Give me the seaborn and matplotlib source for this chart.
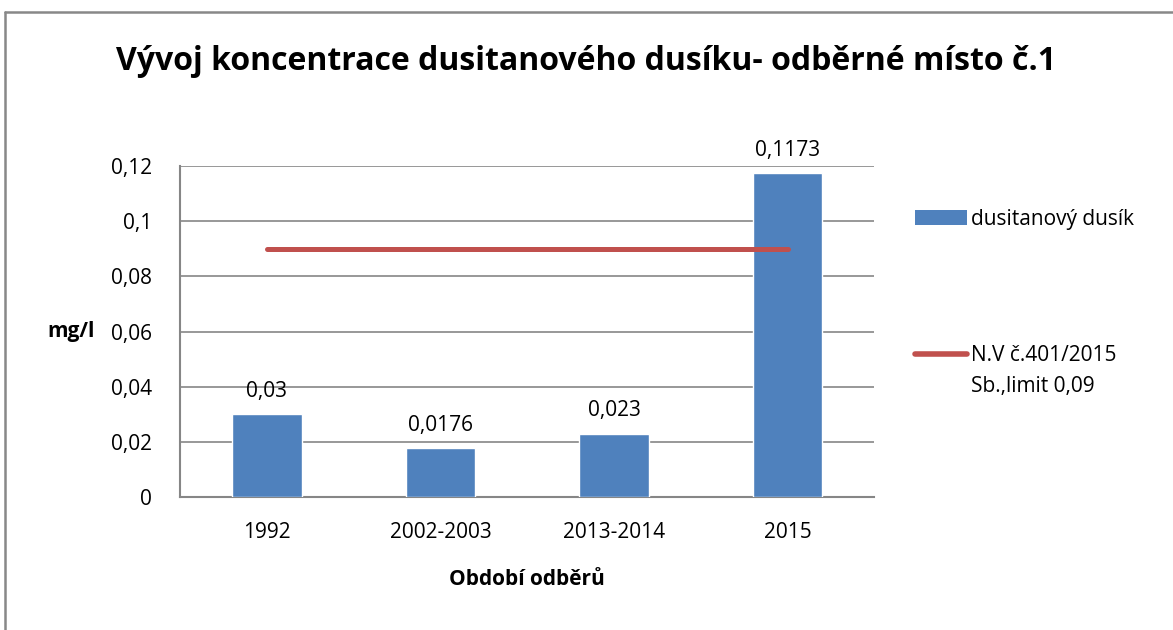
import matplotlib
matplotlib.use("Agg")
import matplotlib.pyplot as plt
import seaborn as sns
import pandas as pd
from matplotlib.lines import Line2D
from matplotlib.patches import Patch

# Data
periods = ["1992", "2002-2003", "2013-2014", "2015"]
nitrite_n = [0.03, 0.0176, 0.023, 0.1173]
limit_values = [0.09, 0.09, 0.09, 0.09]
value_labels = ["0,03", "0,0176", "0,023", "0,1173"]
y_ticks = [0, 0.02, 0.04, 0.06, 0.08, 0.10, 0.12]
y_tick_labels = ["0", "0,02", "0,04", "0,06", "0,08", "0,1", "0,12"]

title = "Vývoj koncentrace dusitanového dusíku- odběrné místo č.1"
bar_name = "dusitanový dusík"
limit_name_lines = ["N.V č.401/2015", "Sb.,limit 0,09"]

sns.set_theme(style="white")
plt.rcParams["font.family"] = ["Open Sans", "DejaVu Sans"]
plt.rcParams["text.color"] = "black"

BLUE = "#4F81BD"
RED = "#C0504D"
GRID = "#868686"
TEXT = "#000000"
FS = 15

fig = plt.figure(figsize=(11.73, 6.3), dpi=100)
ax = fig.add_axes([0.1535, 0.2111, 0.5920, 0.5254])

df = pd.DataFrame({"period": periods, "value": nitrite_n})
sns.barplot(data=df, x="period", y="value", color=BLUE, width=0.4,
            saturation=1, ax=ax, zorder=3)

# limit line across the categories
ax.plot(range(len(periods)), limit_values, color=RED, lw=3.6,
        solid_capstyle="round", zorder=4)

# value labels above bars
for i, (v, lab) in enumerate(zip(nitrite_n, value_labels)):
    ax.annotate(lab, (i, v), xytext=(0, 9), textcoords="offset points",
                ha="center", va="bottom", fontsize=FS, color=TEXT)

ax.set_xlim(-0.5, len(periods) - 0.5)
ax.set_ylim(0, 0.12)
ax.set_yticks(y_ticks)
ax.set_yticklabels(y_tick_labels)
ax.tick_params(axis="both", length=0, labelsize=FS, colors=TEXT)
ax.tick_params(axis="y", pad=20)
ax.tick_params(axis="x", pad=18)
ax.yaxis.grid(True, color=GRID, lw=1.2, zorder=0)
ax.set_axisbelow(True)
for s in ["top", "right"]:
    ax.spines[s].set_visible(False)
for s in ["left", "bottom"]:
    ax.spines[s].set_color(GRID)
    ax.spines[s].set_linewidth(1.5)

ax.set_xlabel("Období odběrů", fontsize=FS, fontweight="bold", labelpad=19,
              color=TEXT)
ax.set_ylabel("mg/l", fontsize=FS, fontweight="bold", rotation=0,
              ha="right", va="center", color=TEXT)
ax.yaxis.set_label_coords(-0.123, 0.5)

fig.suptitle(title, x=0.5, y=0.928, fontsize=23, fontweight="bold",
             color=TEXT)

handles = [Patch(facecolor=BLUE, edgecolor="none"),
           Line2D([0], [0], color=RED, lw=4, solid_capstyle="round")]
leg = fig.legend(handles, [bar_name, limit_name_lines[0]], loc="upper left",
                 bbox_to_anchor=(0.7726, 0.682), frameon=False, fontsize=FS,
                 handlelength=2.5, handletextpad=0.2, labelspacing=5.55,
                 borderaxespad=0, labelcolor=TEXT)
fig.canvas.draw()
# second line of the limit entry, aligned with the legend text
txt = leg.get_texts()[1]
bb = txt.get_window_extent()
fig.text(bb.x0 / fig.bbox.width, (bb.y0 - 31) / fig.bbox.height,
         limit_name_lines[1], fontsize=FS, color=TEXT, ha="left",
         va="bottom")

# outer chart frame (top and left edges)
fig.add_artist(Line2D([0.004, 1.0], [1 - 11.5 / 630, 1 - 11.5 / 630],
                      transform=fig.transFigure, color="#888888", lw=1.8))
fig.add_artist(Line2D([0.004, 0.004], [0.0, 1 - 11.5 / 630],
                      transform=fig.transFigure, color="#888888", lw=1.8))

fig.savefig("out.png", dpi=100, facecolor="white")
